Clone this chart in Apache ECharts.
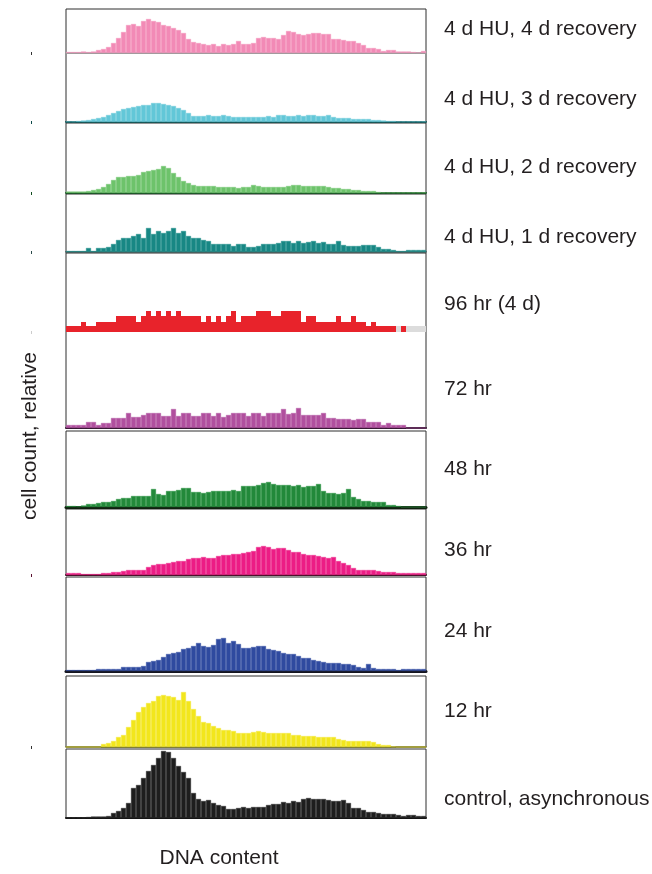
<!DOCTYPE html>
<html>
<head>
<meta charset="utf-8">
<script src="https://cdn.jsdelivr.net/npm/echarts@6/dist/echarts.min.js"></script>
<style>
  html, body { margin: 0; padding: 0; background: #ffffff; }
  #chart { width: 652px; height: 874px; }
</style>
</head>
<body>
<div id="chart"></div>
<script>
// DNA-content histograms (flow cytometry), one panel per condition, top to bottom.
const dnaBins = Array.from({ length: 72 }, (_, i) => String(i + 1));

const conditions = [
  '4 d HU, 4 d recovery',
  '4 d HU, 3 d recovery',
  '4 d HU, 2 d recovery',
  '4 d HU, 1 d recovery',
  '96 hr (4 d)',
  '72 hr',
  '48 hr',
  '36 hr',
  '24 hr',
  '12 hr',
  'control, asynchronous'
];

// relative cell counts per DNA-content bin
const hu4Rec4 = [1,1,1,1.5,1,1.5,3,4,6,10,15,21,28,29,27,32,34,32,31,28,27,25,23,20,14,11,10,9,8,9,7,9,8,9,12,9,9,10,15,16,15,15,14,18,22,21,19,18,19,20,20,19,19,14,14,13,12,12,10,8,5,5,4,2,3,3,1.5,1.5,1.5,1,0.5,2];
const hu4Rec3 = [0.5,0.5,1,1.5,2,3,4,5,7,9,11,13,14,15,16,17,17,19,19,18,17,16,14,12,9,6,6,6,7,6,6,7,6,5,5,5,5,5,5,5,6,5,7,7,6,6,7,6,7,7,6,6,7,5,4,4,4,3,3,3,3,2,2,1.5,1,1,0.5,0.5,0.5,0.5,0.5,0.5];
const hu4Rec2 = [1.5,1.5,1.5,1.5,2,3,4,6,9,13,16,16,17,17,18,21,22,23,24,27,25,20,16,12,10,8,7,7,7,7,6,6,6,6,5,6,6,8,7,6,6,6,6,6,7,8,8,7,7,7,7,7,6,5,5,4,4,3,3,2,2,2,1,0.5,0.5,0.5,0.5,0.5,0.5,0.5,0.5,0.5];
const hu4Rec1 = [1,1,1,1,4,1,4,4,5,8,12,14,14,16,18,14,24,18,21,19,21,24,19,21,16,14,14,12,11,8,8,8,8,6,8,8,5,5,6,8,8,8,9,11,11,9,11,9,10,11,9,10,8,8,11,7,6,6,6,7,7,7,5,3,3,2,1,1,2,2,2,2];
const hr96 = [6,6,6,10,6,6,10,10,10,10,16,16,16,16,10,16,21,16,21,16,21,16,21,16,16,16,16,10,16,10,16,10,16,21,10,16,16,16,21,21,21,16,16,21,21,21,21,10,16,16,10,10,10,10,16,10,10,16,10,10,6,10,6,6,6,6,0,6,0,0,0,0];
const hr96Outside = [0,0,0,0,0,0,0,0,0,0,0,0,0,0,0,0,0,0,0,0,0,0,0,0,0,0,0,0,0,0,0,0,0,0,0,0,0,0,0,0,0,0,0,0,0,0,0,0,0,0,0,0,0,0,0,0,0,0,0,0,0,0,0,0,0,0,6,0,6,6,6,6];
const hr72 = [3,3,3,3,6,6,3,5,5,10,10,10,15,11,11,13,15,15,15,12,12,19,12,15,15,12,12,15,15,12,15,11,13,15,15,15,12,15,15,12,15,15,15,19,14,15,20,13,13,13,13,15,10,10,9,9,9,8,9,9,6,6,6,3,5,3,3,3,0,0,0,0];
const hr48 = [1,1,0.5,1.5,3,3,4,5,5,6,8,9,9,11,11,11,11,18,13,12,16,16,17,19,19,15,15,14,15,16,16,16,16,17,16,21,21,21,22,24,25,23,22,22,22,21,22,20,21,21,23,16,14,14,13,14,18,10,8,6,6,5,5,5,2,2,1,0,0,0,0,0];
const hr36 = [2,2,2,1,1,1,1,2,2,3,3,4,5,5,5,5,8,10,11,11,12,13,14,14,16,17,17,18,17,17,19,20,20,21,21,22,23,24,28,29,28,26,27,27,25,23,23,21,20,20,19,18,17,18,14,12,10,7,5,5,5,5,4,3,3,3,2,2,2,2,2,2];
const hr24 = [1,1,1,1,1,1,2,2,2,2,2,4,4,4,4,5,9,10,11,14,17,18,19,22,23,25,28,25,24,26,32,33,28,30,27,23,23,24,25,25,22,21,20,18,17,17,15,13,13,11,10,9,8,8,8,7,7,6,4,3,7,3,2,2,2,2,1,2,2,2,2,2];
const hr12 = [0,0,0,0,0,0,0,3,4,6,10,12,20,27,35,40,44,46,51,52,51,50,47,55,46,38,31,25,24,21,19,17,17,16,14,14,14,15,16,15,14,14,14,14,14,12,12,11,11,11,10,10,10,10,8,7,6,6,6,6,6,5,3,2,2,0.5,0,0,0,0,0,0];
const control = [0.5,0.5,0.5,0.5,1,1.5,1.5,1.5,2,5,7,10,15,30,33,40,47,53,60,67,66,60,52,46,40,25,19,17,18,15,13,12,9,9,10,11,10,11,11,11,13,14,14,16,15,17,16,19,20,19,19,19,18,17,17,18,15,10,10,8,6,6,5,4,4,4,3,2,3,3,2,2];

const histograms = [hu4Rec4, hu4Rec3, hu4Rec2, hu4Rec1, hr96, hr72, hr48, hr36, hr24, hr12, control];

// panel geometry (px) and per-panel count scale
const panelTop    = [9, 53, 123, 194, 253, 332, 431, 509, 577, 676, 749];
const panelHeight = [44, 69, 70, 58, 79, 96, 76, 66, 94, 71, 69];
const labelCenter = [28, 98, 166, 236, 303, 388, 468, 549, 630, 710, 798];
// the 96 hr and 72 hr panels share one frame
const framed      = [true, true, true, true, false, false, true, true, true, true, true];

// fill, stripe and baseline colours per panel
const fillColor   = ['#F28AB6','#62C7D8','#6DC36B','#178784','#E8232B','#B04F9E','#22893A','#EC1C85','#2F4A9F','#F2E61C','#1E1E1E'];
const stripeColor = ['#F5A3C6','#82D2DF','#86CC83','#2F9895','#E8232B','#BC67AC','#38A04F','#F0449A','#4660AB','#F5EC5A','#3C3C3C'];
const baseColor   = ['#9A9A9A','#0C4A4A','#114D1E','#4A5A5A','#E8232B','#2A1028','#0F200F','#3A0A1E','#151520','#6A6A10','#111111'];
const baseWidth   = [2, 2, 2, 2, 0, 2, 3, 2, 3, 1.5, 2];
const tickColor   = ['#333','#0C4A4A','#114D1E','#2A4A4A','#CCCCCC',null,null,'#5A1030',null,'#333',null];

const FONT = '"Liberation Sans", Arial, Helvetica, sans-serif';
const PLOT_LEFT = 66, PLOT_RIGHT = 226;
const LABEL_SIZE = 21;

const grid = [], xAxis = [], yAxis = [], series = [], title = [];

histograms.forEach((values, i) => {
  grid.push({
    left: PLOT_LEFT, right: PLOT_RIGHT,
    top: panelTop[i], height: panelHeight[i],
    show: framed[i], borderColor: '#2E2E2E', borderWidth: 1,
    backgroundColor: 'transparent'
  });
  xAxis.push({
    type: 'category', gridIndex: i, data: dnaBins,
    boundaryGap: true,
    axisLine: { show: baseWidth[i] > 0, lineStyle: { color: baseColor[i], width: baseWidth[i] } },
    axisTick: { show: false }, axisLabel: { show: false }, splitLine: { show: false }
  });
  yAxis.push({
    type: 'value', gridIndex: i, min: 0, max: panelHeight[i],
    offset: 34,
    axisLine: { show: false },
    axisTick: tickColor[i]
      ? { show: true, customValues: [0], length: 1, lineStyle: { color: tickColor[i], width: 3 } }
      : { show: false },
    axisLabel: { show: false }, splitLine: { show: false }
  });
  series.push({
    name: conditions[i], type: 'bar', xAxisIndex: i, yAxisIndex: i,
    data: values, barCategoryGap: '0%', barGap: '-100%',
    itemStyle: { color: fillColor[i], borderColor: stripeColor[i], borderWidth: i === 4 ? 0 : 0.4 },
    silent: true, animation: false
  });
  title.push({
    text: conditions[i], left: 444, top: labelCenter[i] - LABEL_SIZE / 2 + 1, padding: 0,
    textStyle: { fontFamily: FONT, fontSize: LABEL_SIZE, fontWeight: 'normal', color: '#231F20' }
  });
});

// shared frame around the 96 hr and 72 hr panels
grid.push({
  left: PLOT_LEFT, right: PLOT_RIGHT, top: panelTop[4], height: panelTop[5] + panelHeight[5] - panelTop[4],
  show: true, borderColor: '#2E2E2E', borderWidth: 1, backgroundColor: 'transparent'
});
xAxis.push({ type: 'value', gridIndex: 11, show: false });
yAxis.push({ type: 'value', gridIndex: 11, show: false });

// events outside the gated range in the 96 hr sample
series.push({
  name: '96 hr (4 d), outside gate', type: 'bar', xAxisIndex: 4, yAxisIndex: 4,
  data: hr96Outside, barCategoryGap: '0%', barGap: '-100%',
  itemStyle: { color: '#DCDCDC' }, silent: true, animation: false
});

const chart = echarts.init(document.getElementById('chart'), null, { renderer: 'canvas' });
chart.setOption({
  backgroundColor: '#ffffff',
  animation: false,
  title,
  grid, xAxis, yAxis, series,
  graphic: [
    {
      type: 'text', x: 30, y: 436, rotation: Math.PI / 2,
      style: { text: 'cell count, relative', fontFamily: FONT, fontSize: 21, fill: '#231F20', align: 'center', verticalAlign: 'middle' }
    },
    {
      type: 'text', x: 219, y: 858,
      style: { text: 'DNA content', fontFamily: FONT, fontSize: 21, fill: '#231F20', align: 'center', verticalAlign: 'middle' }
    }
  ]
});
</script>
</body>
</html>
